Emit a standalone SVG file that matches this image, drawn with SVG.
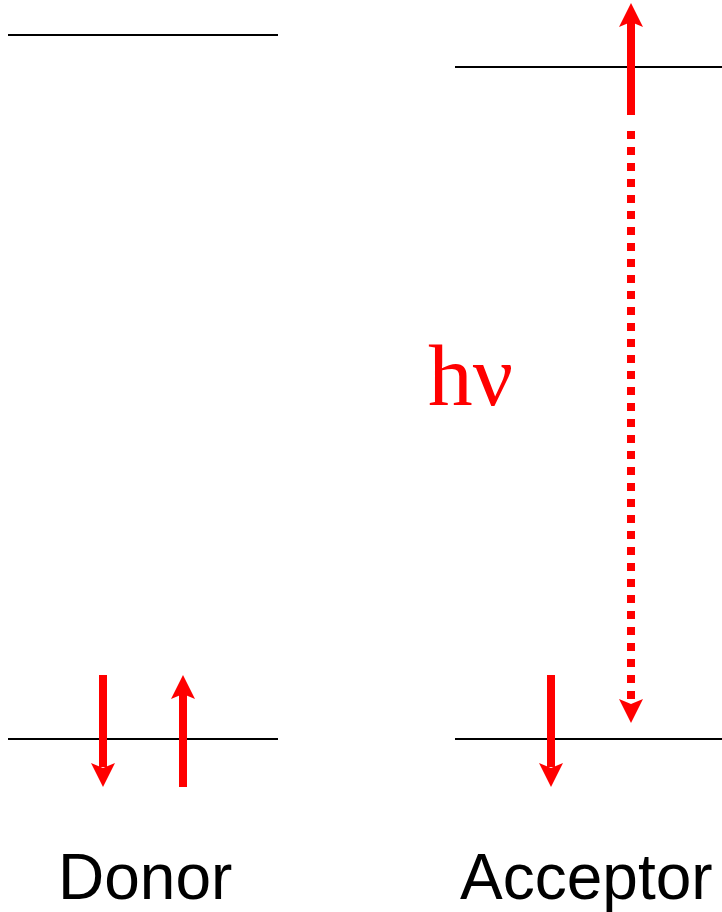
<svg xmlns="http://www.w3.org/2000/svg" width="722" height="912" viewBox="0 0 722 912">
<style>
.lvl{stroke:#000;stroke-width:2;fill:none}
.shaft{stroke:#f00;stroke-width:8;fill:none}
.head{fill:#f00;stroke:none}
.lbl{font-family:"Liberation Sans",Arial,sans-serif;font-size:64px;fill:#000}
.hv{font-family:"Liberation Serif","Times New Roman",serif;font-size:86px;fill:#f00}
</style>
<defs>
<path id="headDown" d="M0,24 L-12,0 L0,5 L12,0 Z"/>
<path id="headUp" d="M0,-24 L-12,0 L0,-5 L12,0 Z"/>
</defs>
<g id="donor">
<line class="lvl" x1="8" y1="35" x2="278" y2="35"/>
<line class="lvl" x1="8" y1="739" x2="278" y2="739"/>
<text class="lbl" x="58" y="899">Donor</text>
</g>
<g id="acceptor">
<line class="lvl" x1="455" y1="67" x2="722" y2="67"/>
<line class="lvl" x1="455" y1="739" x2="722" y2="739"/>
<text class="lbl" x="460" y="899">Acceptor</text>
</g>
<g id="hv-label">
<text class="hv" x="428" y="405" textLength="85" lengthAdjust="spacingAndGlyphs">hν</text>
</g>
<g id="connectors">
<line class="shaft" x1="103" y1="675" x2="103" y2="767"/>
<use href="#headDown" class="head" x="103" y="763"/>
<line class="shaft" x1="183" y1="787" x2="183" y2="694"/>
<use href="#headUp" class="head" x="183" y="699"/>
<line class="shaft" x1="551" y1="675" x2="551" y2="767"/>
<use href="#headDown" class="head" x="551" y="763"/>
<line class="shaft" x1="631" y1="115" x2="631" y2="22"/>
<use href="#headUp" class="head" x="631" y="27"/>
<line class="shaft" x1="631" y1="131" x2="631" y2="699" stroke-dasharray="8 8"/>
<use href="#headDown" class="head" x="631" y="699"/>
</g>
</svg>
